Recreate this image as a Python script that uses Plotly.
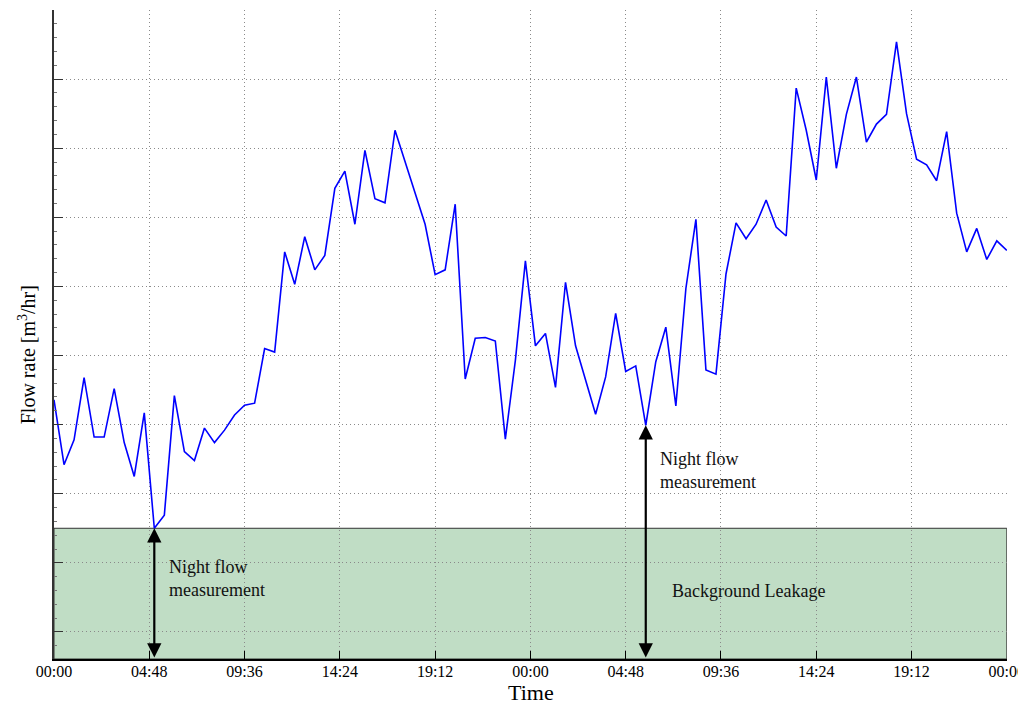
import pandas as pd
import plotly.graph_objects as go

# ---- data ----
start = "2000-01-01 00:00"
end = "2000-01-03 00:00"
n_points = 96
times = pd.date_range(start, end, periods=n_points)

flow = [4.36, 3.42, 3.78, 4.68, 3.82, 3.82, 4.52, 3.74, 3.25, 4.17,
        2.50, 2.69, 4.42, 3.61, 3.48, 3.95, 3.74, 3.92, 4.14, 4.28,
        4.31, 5.10, 5.05, 6.50, 6.03, 6.72, 6.24, 6.45, 7.42, 7.67,
        6.90, 7.97, 7.27, 7.21, 8.26, 7.81, 7.34, 6.90, 6.17, 6.24,
        7.19, 4.66, 5.25, 5.26, 5.21, 3.79, 4.93, 6.37, 5.14, 5.32,
        4.54, 6.06, 5.14, 4.65, 4.15, 4.69, 5.61, 4.77, 4.85, 3.99,
        4.91, 5.41, 4.27, 5.97, 6.97, 4.79, 4.73, 6.18, 6.92, 6.69,
        6.90, 7.25, 6.86, 6.73, 8.87, 8.26, 7.54, 9.03, 7.71, 8.49,
        9.03, 8.09, 8.35, 8.49, 9.54, 8.50, 7.84, 7.76, 7.53, 8.24,
        7.06, 6.50, 6.84, 6.39, 6.66, 6.52]

y_min, y_max = 0.608, 10.0005
y_ticks = [1, 2, 3, 4, 5, 6, 7, 8, 9, 10]
leakage_level = 2.50
night_idx = [10, 59]

label_night = "Night flow<br>measurement"
label_leak = "Background Leakage"
label_night_pos = [("2000-01-01 05:41", 1.78), ("2000-01-02 06:25", 3.34)]
label_leak_pos = ("2000-01-02 10:58", 1.59)
x_title = "Time"
y_title = "Flow rate [m<sup>3</sup>/hr]"

FONT = "Liberation Serif"
GRID_DASH = "1px,3px"

fig = go.Figure()

fig.add_trace(go.Scatter(x=times, y=flow, mode="lines",
                         line=dict(color="#0000ff", width=1.6),
                         showlegend=False, hoverinfo="skip"))

# background leakage band
fig.add_shape(type="rect", xref="x", yref="y",
              x0=times[0], x1=times[-1], y0=y_min, y1=leakage_level,
              fillcolor="#c0ddc5", line=dict(color="#333333", width=1),
              layer="below")

# double-headed arrows
for i in night_idx:
    t = str(times[i])
    fig.add_annotation(x=t, y=flow[i], ax=t, ay=y_min,
                       xref="x", yref="y", axref="x", ayref="y",
                       text="", showarrow=True, arrowside="end+start",
                       arrowhead=2, startarrowhead=2,
                       arrowsize=1.3, startarrowsize=1.3,
                       arrowwidth=2.2, arrowcolor="black")

for (tx, ty) in label_night_pos:
    fig.add_annotation(x=tx, y=ty, xref="x", yref="y", text=label_night,
                       showarrow=False, xanchor="left", yanchor="middle",
                       align="left",
                       font=dict(family=FONT, size=18, color="#111"))

fig.add_annotation(x=label_leak_pos[0], y=label_leak_pos[1], xref="x", yref="y",
                   text=label_leak, showarrow=False, xanchor="center",
                   yanchor="middle", font=dict(family=FONT, size=18, color="#111"))

# axis titles
fig.add_annotation(x=0.5, y=0, xref="paper", yref="paper", text=x_title,
                   showarrow=False, xanchor="center", yanchor="middle",
                   yshift=-33, font=dict(family=FONT, size=22, color="black"))
fig.add_annotation(x=0, y=0.468, xref="paper", yref="paper", text=y_title,
                   showarrow=False, xanchor="center", yanchor="middle",
                   xshift=-27, textangle=-90,
                   font=dict(family=FONT, size=20, color="black"))

# page body has an 8px margin: size/margins compensate so the plot sits
# at the same pixel position as the reference
fig.update_layout(
    width=1018, height=696,
    margin=dict(l=46, r=19, t=2, b=45, autoexpand=False),
    paper_bgcolor="white", plot_bgcolor="white",
    font=dict(family=FONT, color="black"),
)

fig.update_xaxes(
    type="date", range=[start, "2000-01-03 00:00:30"], automargin=False,
    tick0=start, dtick=4.8 * 3600 * 1000, tickformat="%H:%M",
    showgrid=True, gridcolor="#8a8a8a", griddash=GRID_DASH, gridwidth=1,
    ticks="inside", ticklen=8, tickcolor="black", tickwidth=1,
    showline=True, linecolor="black", linewidth=1.5,
    tickfont=dict(family=FONT, size=16, color="black"),
    ticklabelstandoff=-3,
    zeroline=False,
)

fig.update_yaxes(
    range=[y_min, y_max], tickvals=y_ticks, showticklabels=False,
    automargin=False,
    showgrid=True, gridcolor="#8a8a8a", griddash=GRID_DASH, gridwidth=1,
    ticks="inside", ticklen=9, tickcolor="#333", tickwidth=1,
    minor=dict(dtick=0.2, tick0=0, ticks="inside", ticklen=3,
               tickcolor="#777", showgrid=False),
    showline=True, linecolor="#333", linewidth=1.5,
    zeroline=False,
)

fig.write_html("out.html")
